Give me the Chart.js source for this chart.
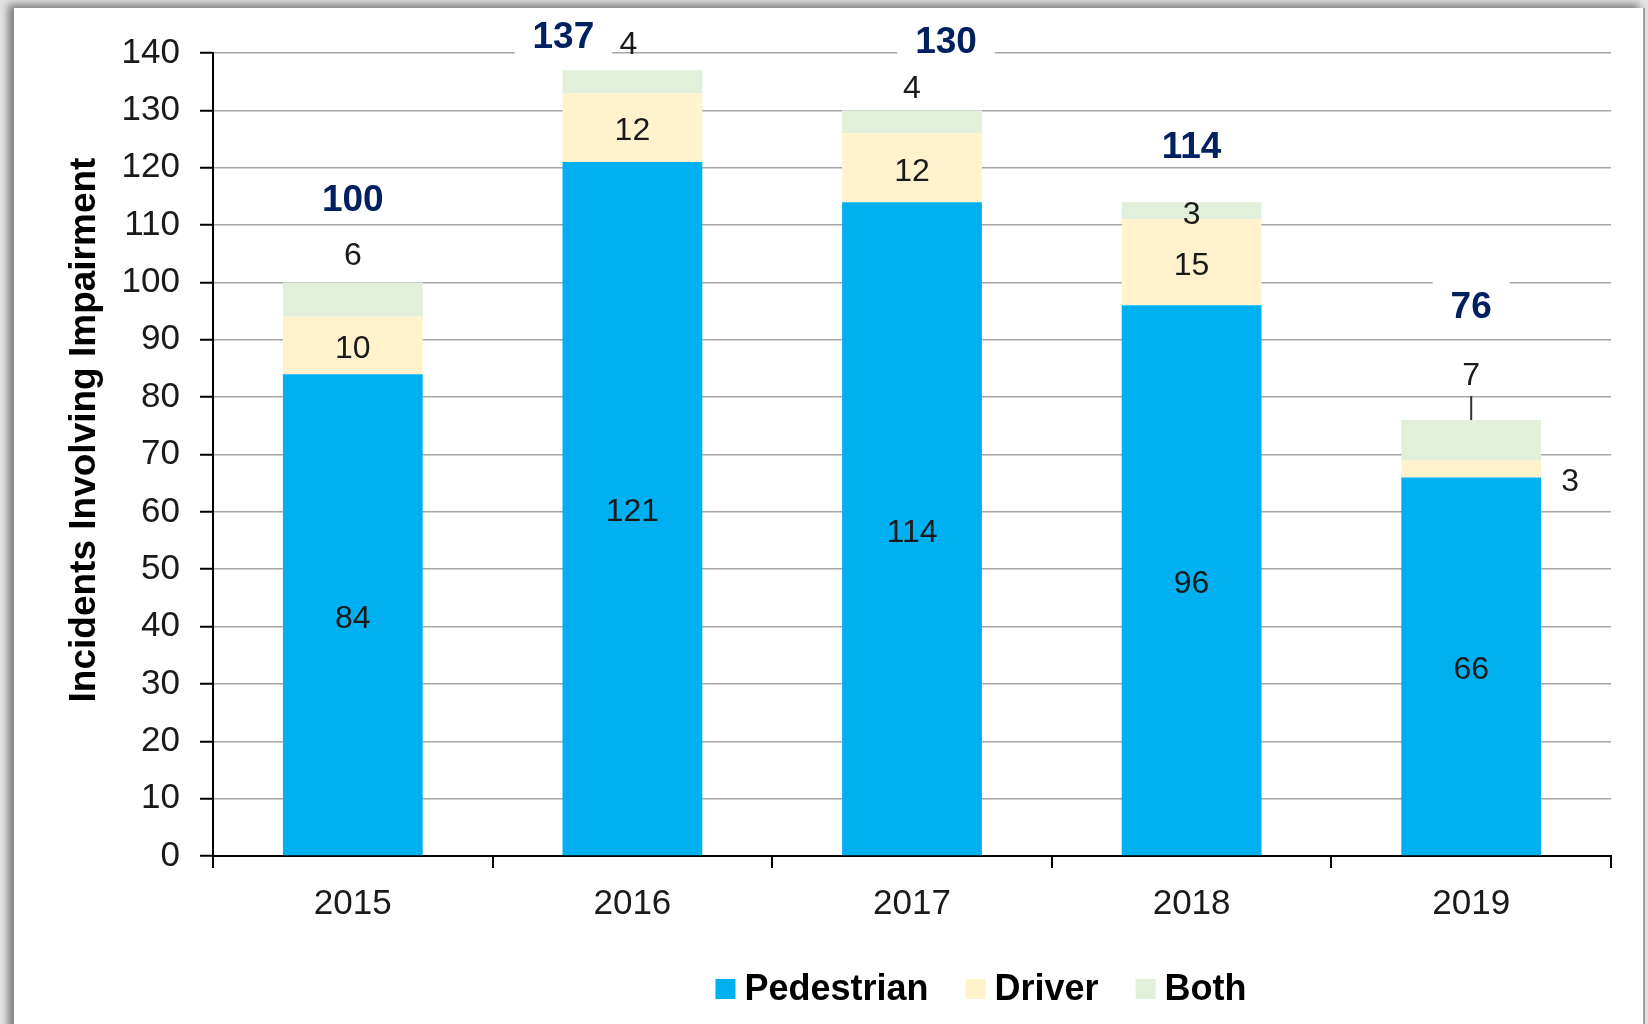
<!DOCTYPE html>
<html>
<head>
<meta charset="utf-8">
<script src="https://cdn.jsdelivr.net/npm/chart.js@4.4.0/dist/chart.umd.min.js"></script>
<style>
  html, body { margin:0; padding:0; width:1648px; height:1024px; overflow:hidden; background:#e4e4e4; }
  #card { position:absolute; left:14px; top:8px; width:1629px; height:1100px; background:#fff;
          box-shadow:-6px -4px 8px rgba(0,0,0,0.45); border-right:2px solid #a0a0a0; }
  #c { position:absolute; left:0; top:0; }
</style>
</head>
<body>
<div id="card"></div>
<canvas id="c" width="1648" height="1024"></canvas>
<script>
// ---- data ----
const categories = ['2015', '2016', '2017', '2018', '2019'];
const pedestrian = [84, 121, 114, 96, 66];
const driver     = [10, 12, 12, 15, 3];
const both       = [6, 4, 4, 3, 7];
const totals     = [100, 137, 130, 114, 76];
const seriesNames = ['Pedestrian', 'Driver', 'Both'];
const yTickMin = 0, yTickMax = 140, yTickStep = 10;
const axisTitle = 'Incidents Involving Impairment';

// ---- styling / label placement (kept apart from data) ----
const colors = ['#00B0F0', '#FFF2CC', '#E2EFDA'];
const FONT = '"Liberation Sans", Arial, sans-serif';
const bothMode  = ['above', 'above', 'above', 'inside', 'leader'];
const bothLift  = [26, 25, 21, 0, 44];
const bothShift = [0, -4, 0, 0, 0];
const driverMode = ['inside', 'inside', 'inside', 'inside', 'right'];
const totalLift  = [82, 32, 68, 54, 112];
const totalShift = [0, -69, 34, 0, 0];
const segDy = 4;

const labelPlugin = {
  id: 'valueLabels',
  afterDatasetsDraw(chart) {
    const ctx = chart.ctx;
    ctx.save();
    ctx.textAlign = 'center';
    ctx.textBaseline = 'middle';
    // segment labels
    chart.data.datasets.forEach((ds, di) => {
      const meta = chart.getDatasetMeta(di);
      meta.data.forEach((bar, i) => {
        const v = ds.data[i];
        let x = bar.x, y = (bar.y + bar.base) / 2 + segDy;
        if (di === 1 && driverMode[i] === 'right') {
          x = bar.x + bar.width / 2 + 29; y = y + 9;
        }
        if (di === 2) {
          if (bothMode[i] === 'above') { y = bar.y - bothLift[i]; x += bothShift[i]; }
          else if (bothMode[i] === 'leader') {
            y = bar.y - bothLift[i];
            ctx.strokeStyle = '#333'; ctx.lineWidth = 2;
            ctx.beginPath(); ctx.moveTo(bar.x, bar.y); ctx.lineTo(bar.x, bar.y - 24); ctx.stroke();
          }
        }
        ctx.font = '32px ' + FONT;
        ctx.fillStyle = '#1a1a1a';
        ctx.fillText(String(v), x, y);
      });
    });
    // totals
    const topMeta = chart.getDatasetMeta(2);
    ctx.font = 'bold 37px ' + FONT;
    topMeta.data.forEach((bar, i) => {
      const x = bar.x + totalShift[i];
      const y = bar.y - totalLift[i];
      const t = String(totals[i]);
      const w = ctx.measureText(t).width + 36;
      ctx.fillStyle = '#fff';
      ctx.fillRect(x - w / 2, y - 28, w, 46);
      ctx.fillStyle = '#002060';
      ctx.fillText(t, x, y);
    });
    ctx.restore();
  }
};

const decorPlugin = {
  id: 'decor',
  afterDraw(chart) {
    const ctx = chart.ctx;
    ctx.save();
    // y axis title
    ctx.translate(85, 430);
    ctx.rotate(-Math.PI / 2);
    ctx.font = 'bold 37px ' + FONT;
    ctx.fillStyle = '#000';
    ctx.textAlign = 'center';
    ctx.textBaseline = 'middle';
    ctx.fillText(axisTitle, 0, 0);
    ctx.restore();

    // legend
    ctx.save();
    ctx.font = 'bold 36px ' + FONT;
    ctx.textBaseline = 'middle';
    ctx.textAlign = 'left';
    const box = 20, gap = 9, itemGap = 37, cy = 990;
    const items = chart.data.datasets.map(d => ({ label: d.label, color: d.backgroundColor, w: ctx.measureText(d.label).width }));
    let total = 0;
    items.forEach((it, k) => { total += box + gap + it.w + (k < items.length - 1 ? itemGap : 0); });
    let x = 981 - total / 2;
    items.forEach(it => {
      ctx.fillStyle = it.color;
      ctx.fillRect(x, cy - box / 2 - 1, box, box);
      x += box + gap;
      ctx.fillStyle = '#000';
      ctx.fillText(it.label, x, cy);
      x += it.w + itemGap;
    });
    ctx.restore();
  }
};

new Chart(document.getElementById('c'), {
  type: 'bar',
  data: {
    labels: categories,
    datasets: [
      { label: seriesNames[0], data: pedestrian, backgroundColor: colors[0] },
      { label: seriesNames[1], data: driver, backgroundColor: colors[1] },
      { label: seriesNames[2], data: both, backgroundColor: colors[2] }
    ]
  },
  options: {
    responsive: false,
    animation: false,
    devicePixelRatio: 1,
    layout: { padding: { top: 53, right: 37, bottom: 0, left: 0 } },
    datasets: { bar: { barPercentage: 0.5, categoryPercentage: 1.0, borderWidth: 0 } },
    plugins: { legend: { display: false }, tooltip: { enabled: false } },
    scales: {
      x: {
        stacked: true,
        afterFit(s) { s.height = 168; },
        grid: { display: true, drawOnChartArea: false, drawTicks: true, tickLength: 12,
                color: '#000', lineWidth: 2, offset: true },
        border: { display: true, color: '#000', width: 2 },
        ticks: { font: { family: FONT, size: 35 }, color: '#1a1a1a', padding: 15 }
      },
      y: {
        stacked: true,
        min: yTickMin, max: yTickMax,
        afterFit(s) { s.width = 213; },
        grid: { color: '#a6a6a6', lineWidth: 1.5, tickColor: '#000', tickWidth: 2, tickLength: 13 },
        border: { display: true, color: '#000', width: 2 },
        ticks: { stepSize: yTickStep, font: { family: FONT, size: 35 }, color: '#1a1a1a', padding: 20 }
      }
    }
  },
  plugins: [labelPlugin, decorPlugin]
});
</script>
</body>
</html>
